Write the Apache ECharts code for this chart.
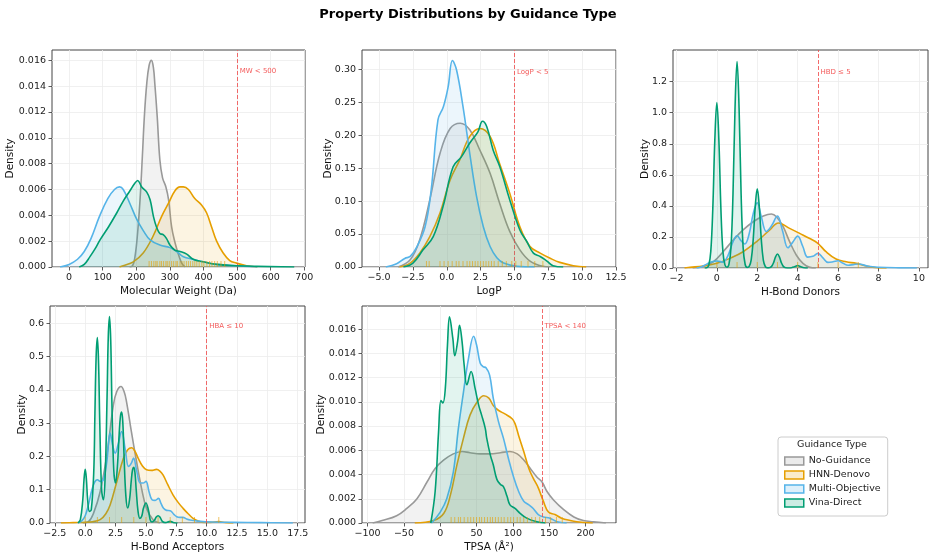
<!DOCTYPE html>
<html>
<head>
<meta charset="utf-8">
<script src="https://cdn.jsdelivr.net/npm/echarts@6/dist/echarts.min.js"></script>
<style>
  html, body { margin: 0; padding: 0; background: #fff; }
  #chart { width: 936px; height: 558px; }
</style>
</head>
<body>
<div id="chart"></div>
<script>
// guidance types and colours
const guidanceTypes = ['No-Guidance', 'HNN-Denovo', 'Multi-Objective', 'Vina-Direct'];
const lineColors = ['#999999', '#E69F00', '#56B4E9', '#009E73'];
const fillColors = ['rgba(153,153,153,0.18)', 'rgba(230,159,0,0.16)', 'rgba(86,180,233,0.16)', 'rgba(0,158,115,0.16)'];
const legendFills = ['rgba(153,153,153,0.2)', 'rgba(230,159,0,0.2)', 'rgba(86,180,233,0.2)', 'rgba(0,158,115,0.2)'];

// Molecular weight densities [x, density]
const mwNone = [[180,0],[189,0.0001],[196,0.0008],[203,0.0024],[211,0.0052],[218,0.0086],[224,0.0117],[231,0.0142],[238,0.0156],[245,0.0160],[251,0.0154],[255,0.0142],[262,0.0117],[270,0.0083],[278,0.0069],[288,0.0062],[296,0.0052],[305,0.0031],[315,0.0019],[325,0.0010],[335,0.0003],[345,0]];
const mwHnn = [[150,0],[161,0.0001],[191,0.0004],[221,0.0011],[250,0.0024],[275,0.0039],[295,0.0049],[315,0.0059],[330,0.0062],[340,0.0062],[355,0.0060],[374,0.0053],[394,0.0048],[409,0.0042],[424,0.0031],[439,0.0020],[458,0.0011],[478,0.0005],[498,0.0003],[528,0.0001],[560,0]];
const mwMulti = [[-27,0],[0,0.0002],[25,0.0006],[45,0.0012],[65,0.0022],[90,0.0039],[115,0.0053],[135,0.0060],[150,0.0062],[161,0.0060],[181,0.0049],[201,0.0037],[221,0.0028],[241,0.0021],[270,0.0017],[300,0.0015],[320,0.0012],[340,0.0008],[369,0.0006],[399,0.0004],[439,0.0002],[498,0.0001],[560,0]];
const mwVina = [[30,0],[45,0.0002],[62,0.0008],[77,0.0014],[92,0.0021],[117,0.0031],[142,0.0042],[161,0.0051],[181,0.0059],[196,0.0065],[204,0.0067],[216,0.0062],[231,0.0058],[241,0.0052],[251,0.0039],[260,0.0031],[270,0.0026],[280,0.0025],[290,0.0022],[300,0.0017],[315,0.0013],[330,0.0012],[350,0.0010],[369,0.0006],[399,0.0004],[439,0.0002],[498,0.0001],[560,0.00005],[670,0]];
const mwRug = [238,245,252,258,262,270,275,281,288,292,298,305,311,318,322,330,336,342,349,355,361,368,374,380,387,395,401,410,418,425,433,441,452,463];

// LogP densities
const lpNone = [[-3.6,0],[-2.7,0.011],[-2.0,0.041],[-1.25,0.102],[-0.5,0.172],[0.25,0.21],[1.0,0.218],[1.7,0.208],[2.45,0.177],[3.2,0.142],[3.9,0.097],[4.65,0.054],[5.4,0.026],[6.15,0.009],[7.1,0.001],[7.6,0]];
const lpHnn = [[-3.5,0],[-2.7,0.006],[-2.0,0.021],[-1.25,0.046],[-0.5,0.082],[0.25,0.132],[0.95,0.162],[1.7,0.198],[2.45,0.21],[3.2,0.198],[3.9,0.157],[4.65,0.112],[5.4,0.061],[6.15,0.031],[6.9,0.021],[7.6,0.0136],[8.35,0.007],[9.35,0.002],[10.3,0]];
const lpMulti = [[-4.5,0],[-3.7,0.005],[-3.1,0.013],[-2.7,0.016],[-2.25,0.029],[-1.6,0.061],[-1.15,0.117],[-0.65,0.223],[-0.25,0.243],[0.1,0.273],[0.42,0.313],[0.72,0.299],[1.2,0.243],[1.7,0.172],[2.2,0.107],[2.7,0.061],[3.2,0.031],[3.7,0.014],[4.2,0.006],[5.2,0.001],[6.5,0]];
const lpVina = [[-3.2,0],[-2.5,0.006],[-1.75,0.026],[-1.0,0.046],[-0.27,0.092],[0.47,0.152],[1.08,0.167],[1.7,0.188],[2.3,0.205],[2.64,0.221],[2.95,0.213],[3.43,0.177],[3.92,0.152],[4.65,0.102],[5.4,0.056],[5.9,0.039],[6.4,0.021],[6.9,0.016],[7.4,0.009],[7.85,0.002],[8.6,0]];
const lpRug = [-1.5,-1.3,-0.5,-0.2,0.1,0.4,0.7,0.9,1.2,1.5,1.7,1.9,2.1,2.3,2.5,2.7,2.9,3.1,3.3,3.5,3.8,4.1,4.4,4.8,5.1,5.5,6,6.5,7.1];

// H-bond donor densities
const hbdNone = [[-1.2,0],[-0.68,0.009],[-0.18,0.04],[0.31,0.105],[0.81,0.18],[1.3,0.245],[1.8,0.298],[2.3,0.335],[2.7,0.348],[2.95,0.33],[3.28,0.266],[3.6,0.17],[3.93,0.084],[4.26,0.03],[4.6,0.004],[4.9,0]];
const hbdHnn = [[-1.6,0],[-1.33,0.004],[-0.68,0.013],[0,0.03],[0.64,0.062],[1.3,0.105],[1.97,0.17],[2.62,0.245],[3.05,0.29],[3.6,0.255],[4.1,0.223],[4.6,0.19],[5.0,0.159],[5.4,0.105],[5.9,0.058],[6.4,0.04],[6.9,0.03],[7.4,0.013],[7.9,0.002],[8.4,0]];
const hbdMulti = [[-1.0,0],[-0.75,0.008],[-0.5,0.025],[-0.25,0.04],[0,0.045],[0.3,0.038],[0.55,0.08],[0.8,0.17],[1.0,0.208],[1.2,0.175],[1.38,0.155],[1.6,0.22],[1.8,0.35],[2.0,0.42],[2.2,0.33],[2.45,0.235],[2.7,0.27],[3.0,0.335],[3.25,0.24],[3.52,0.13],[3.75,0.165],[4.0,0.205],[4.25,0.14],[4.5,0.07],[4.75,0.075],[5.0,0.094],[5.25,0.065],[5.5,0.036],[5.75,0.04],[6.0,0.047],[6.25,0.03],[6.5,0.018],[6.75,0.022],[7.0,0.026],[7.5,0.011],[8.0,0.005],[9.0,0.001],[9.9,0]];
const hbdVina = [[-0.6,0],[-0.5,0.002],[-0.4,0.018],[-0.3,0.107],[-0.2,0.383],[-0.1,0.825],[0,1.065],[0.1,0.825],[0.2,0.383],[0.3,0.107],[0.4,0.02],[0.5,0.005],[0.6,0.025],[0.7,0.133],[0.8,0.48],[0.9,1.03],[1,1.33],[1.1,1.03],[1.2,0.48],[1.3,0.133],[1.4,0.024],[1.5,0.004],[1.6,0.01],[1.7,0.052],[1.8,0.184],[1.9,0.395],[2,0.51],[2.1,0.395],[2.2,0.184],[2.3,0.051],[2.4,0.009],[2.5,0.001],[2.6,0.002],[2.7,0.009],[2.8,0.032],[2.9,0.07],[3,0.09],[3.1,0.07],[3.2,0.032],[3.3,0.009],[3.4,0.002],[3.6,0],[3.7,0.002],[3.8,0.006],[3.9,0.012],[4,0.016],[4.1,0.012],[4.2,0.006],[4.3,0.002],[4.5,0]];
const hbdRug = [0,1,2,3,4,5,6,7];

// H-bond acceptor densities
const hbaNone = [[-0.2,0],[0.27,0.004],[0.68,0.029],[1.23,0.094],[1.78,0.204],[2.32,0.355],[2.6,0.395],[2.95,0.41],[3.2,0.395],[3.4,0.365],[3.8,0.275],[4.23,0.184],[4.64,0.104],[5.05,0.044],[5.6,0.009],[6.15,0]];
const hbaHnn = [[-2,0],[-1,0.001],[0,0.002],[0.6,0.004],[1.23,0.01],[1.7,0.028],[2.05,0.054],[2.6,0.124],[3.14,0.194],[3.5,0.22],[3.83,0.226],[4.1,0.215],[4.37,0.194],[4.7,0.172],[5.05,0.16],[5.45,0.158],[5.87,0.161],[6.15,0.156],[6.42,0.144],[6.8,0.115],[7.24,0.084],[7.65,0.062],[8.06,0.044],[8.5,0.027],[8.88,0.014],[9.3,0.006],[9.7,0.002],[10.3,0.002],[11,0.004],[11.6,0.001],[12.2,0]];
const hbaMulti = [[-0.6,0],[-0.3,0.006],[0,0.022],[0.3,0.06],[0.55,0.1],[0.8,0.124],[1.0,0.13],[1.25,0.125],[1.5,0.13],[1.78,0.185],[2.05,0.27],[2.25,0.235],[2.47,0.21],[2.7,0.235],[3.0,0.275],[3.3,0.22],[3.57,0.17],[3.8,0.18],[3.98,0.195],[4.25,0.155],[4.53,0.12],[4.77,0.12],[5.0,0.125],[5.25,0.095],[5.5,0.07],[5.75,0.068],[6.03,0.074],[6.25,0.058],[6.45,0.044],[6.7,0.038],[7.0,0.037],[7.3,0.026],[7.54,0.019],[7.8,0.017],[8.04,0.017],[8.35,0.012],[8.64,0.009],[9.46,0.005],[10.5,0.003],[12.2,0.002],[14.5,0.001],[17.1,0]];
const hbaVina = [[-0.6,0],[-0.4,0.01],[-0.2,0.07],[-0.1,0.13],[0,0.161],[0.1,0.13],[0.2,0.07],[0.35,0.035],[0.5,0.04],[0.7,0.15],[0.8,0.33],[0.9,0.5],[1,0.557],[1.1,0.48],[1.2,0.3],[1.35,0.1],[1.5,0.07],[1.65,0.15],[1.8,0.38],[1.9,0.56],[2,0.62],[2.1,0.55],[2.2,0.36],[2.35,0.16],[2.5,0.12],[2.65,0.17],[2.8,0.27],[2.9,0.32],[3,0.333],[3.1,0.3],[3.2,0.2],[3.35,0.08],[3.5,0.045],[3.65,0.07],[3.8,0.13],[3.9,0.16],[4,0.167],[4.1,0.15],[4.2,0.1],[4.35,0.035],[4.5,0.014],[4.65,0.02],[4.8,0.045],[5,0.06],[5.2,0.04],[5.35,0.01],[5.5,0.003],[5.7,0.008],[5.85,0.018],[6,0.022],[6.15,0.018],[6.35,0.005],[6.6,0.001],[7,0.005],[7.3,0.001],[7.6,0]];
const hbaRug = [0,1,2,3,4,5,6,7,8,9,11];

// TPSA densities
const tpNone = [[-93,0],[-80,0.0002],[-60,0.0006],[-46,0.0012],[-32,0.0020],[-18,0.0034],[-7,0.0045],[5,0.0052],[18,0.0057],[30,0.0059],[41,0.0058],[55,0.0057],[69,0.0057],[83,0.0058],[96,0.0059],[106,0.0057],[115,0.0052],[124,0.0045],[133,0.0038],[140,0.0034],[147,0.0026],[156,0.0019],[170,0.0011],[184,0.0005],[197,0.0002],[211,0.0001],[228,0]];
const tpHnn = [[-35,0],[-9,0.0002],[5,0.0008],[14,0.0023],[23,0.0048],[32,0.0070],[41,0.0089],[51,0.0100],[60,0.0105],[67,0.0103],[73,0.0097],[80,0.0093],[89,0.0090],[99,0.0086],[103,0.0082],[108,0.0072],[115,0.0059],[122,0.0045],[128,0.0037],[135,0.0029],[142,0.0018],[149,0.0009],[158,0.0007],[167,0.0004],[179,0.0002],[188,0.0001],[210,0]];
const tpMulti = [[-12,0],[0,0.0009],[9,0.002],[18,0.0042],[25,0.0078],[32,0.0108],[39,0.0136],[46,0.0154],[50,0.0147],[55,0.0132],[59,0.0129],[63,0.0128],[68,0.0122],[73,0.0103],[80,0.0084],[87,0.0070],[94,0.0053],[101,0.0038],[108,0.0026],[115,0.0018],[122,0.0015],[128,0.0012],[135,0.0007],[142,0.0005],[151,0.0004],[161,0.0001],[174,0]];
const tpVina = [[-13,0],[-7,0.0026],[-2.3,0.0075],[1,0.0101],[3.7,0.0099],[7,0.0111],[10,0.0147],[12.8,0.0170],[17.4,0.0152],[20,0.0138],[24,0.0150],[26.6,0.0163],[30,0.015],[33,0.013],[36.7,0.0114],[42.5,0.0125],[48,0.0111],[53,0.0097],[57,0.0089],[62,0.0078],[64,0.0070],[69,0.0056],[73,0.0048],[78,0.0036],[82.6,0.0032],[87,0.0030],[92,0.0022],[96,0.0015],[103,0.0012],[110,0.0008],[119,0.0004],[133,0.0001],[145,0]];
const tpRug = [15,20,25,28,33,38,42,46,50,54,57,61,65,69,72,76,80,84,88,93,97,101,106,110,115,120,126,131,137,145,152,160,168];

// tick labels
const mwXTicks = [0,100,200,300,400,500,600,700];
const mwYTicks = [0,0.002,0.004,0.006,0.008,0.010,0.012,0.014,0.016];
const lpXTicks = [-5,-2.5,0,2.5,5,7.5,10,12.5];
const lpYTicks = [0,0.05,0.10,0.15,0.20,0.25,0.30];
const hbdXTicks = [-2,0,2,4,6,8,10];
const hbdYTicks = [0,0.2,0.4,0.6,0.8,1.0,1.2];
const hbaXTicks = [-2.5,0,2.5,5,7.5,10,12.5,15,17.5];
const hbaYTicks = [0,0.1,0.2,0.3,0.4,0.5,0.6];
const tpXTicks = [-100,-50,0,50,100,150,200];
const tpYTicks = [0,0.002,0.004,0.006,0.008,0.010,0.012,0.014,0.016];

// drug-likeness limits
const limits = [500, 5, 5, 10, 140];
const limitLabels = ['MW < 500', 'LogP < 5', 'HBD \u2264 5', 'HBA \u2264 10', 'TPSA < 140'];
const limitLabelY = [0.01517, 0.296, 1.264, 0.592, 0.01621];

const FONT = 'DejaVu Sans';
const panels = [
  { title: 'Molecular Weight (Da)', grid: {left: 52, top: 50, width: 253, height: 217}, xMin: -51, xMax: 702, yMax: 0.0168,
    xTicks: mwXTicks, yTicks: mwYTicks, xDec: 0, yDec: 3, data: [mwNone, mwHnn, mwMulti, mwVina], rug: mwRug, yGap: 36 },
  { title: 'LogP', grid: {left: 362, top: 50, width: 254, height: 217}, xMin: -6.26, xMax: 12.5, yMax: 0.329,
    xTicks: lpXTicks, yTicks: lpYTicks, xDec: 1, yDec: 2, data: [lpNone, lpHnn, lpMulti, lpVina], rug: lpRug, yGap: 28 },
  { title: 'H-Bond Donors', grid: {left: 673, top: 50, width: 255, height: 218}, xMin: -2.17, xMax: 10.45, yMax: 1.404,
    xTicks: hbdXTicks, yTicks: hbdYTicks, xDec: 0, yDec: 1, data: [hbdNone, hbdHnn, hbdMulti, hbdVina], rug: hbdRug, yGap: 22 },
  { title: 'H-Bond Acceptors', grid: {left: 50, top: 306, width: 255, height: 217}, xMin: -2.9, xMax: 18.1, yMax: 0.652,
    xTicks: hbaXTicks, yTicks: hbaYTicks, xDec: 1, yDec: 1, data: [hbaNone, hbaHnn, hbaMulti, hbaVina], rug: hbaRug, yGap: 22 },
  { title: 'TPSA (\u00c5\u00b2)', grid: {left: 362, top: 306, width: 254, height: 217}, xMin: -107.7, xMax: 242, yMax: 0.0179,
    xTicks: tpXTicks, yTicks: tpYTicks, xDec: 0, yDec: 3, data: [tpNone, tpHnn, tpMulti, tpVina], rug: tpRug, yGap: 35 }
];

const fmt = (v, d) => v.toFixed(d).replace('-', '\u2212');
const tickStyle = { show: true, length: 3.5, lineStyle: { color: '#333', width: 0.8 } };
const splitStyle = { show: true, lineStyle: { color: '#ececec', width: 0.8 } };

const grids = [], xAxes = [], yAxes = [], series = [];
panels.forEach((p, i) => {
  grids.push(Object.assign({ show: true, borderColor: '#444', borderWidth: 1, backgroundColor: 'transparent' }, p.grid));
  xAxes.push({
    type: 'value', gridIndex: i, min: p.xMin, max: p.xMax, position: 'bottom',
    name: p.title, nameLocation: 'middle', nameGap: 19, nameMoveOverlap: false,
    nameTextStyle: { fontFamily: FONT, fontSize: 10.5, color: '#111' },
    axisLine: { show: false, onZero: false },
    axisTick: Object.assign({ customValues: p.xTicks }, tickStyle),
    axisLabel: { customValues: p.xTicks, formatter: v => fmt(v, p.xDec), fontFamily: FONT, fontSize: 9.5, color: '#222', margin: 6 },
    splitLine: splitStyle
  });
  yAxes.push({
    type: 'value', gridIndex: i, min: 0, max: p.yMax, position: 'left',
    name: 'Density', nameLocation: 'middle', nameGap: p.yGap, nameMoveOverlap: false,
    nameTextStyle: { fontFamily: FONT, fontSize: 10.5, color: '#111' },
    axisLine: { show: false, onZero: false },
    axisTick: Object.assign({ customValues: p.yTicks }, tickStyle),
    axisLabel: { customValues: p.yTicks, formatter: v => fmt(v, p.yDec), fontFamily: FONT, fontSize: 9.5, color: '#222', margin: 6 },
    splitLine: splitStyle
  });
  p.data.forEach((d, k) => {
    series.push({
      type: 'line', name: guidanceTypes[k], xAxisIndex: i, yAxisIndex: i, data: d,
      smooth: 0.4, symbol: 'none', silent: true, z: 2 + k,
      lineStyle: { color: lineColors[k], width: 1.6 },
      itemStyle: { color: lineColors[k] },
      areaStyle: { color: fillColors[k] }
    });
  });
  series.push({
    type: 'scatter', xAxisIndex: i, yAxisIndex: i, silent: true, z: 8,
    data: p.rug.map(v => [v, 0]), symbol: 'rect', symbolSize: [1, 6], symbolOffset: [0, -3],
    itemStyle: { color: 'rgba(230,159,0,0.75)' }
  });
  series.push({
    type: 'scatter', xAxisIndex: i, yAxisIndex: i, silent: true, z: 9,
    data: [[limits[i], limitLabelY[i]]], symbolSize: 1, itemStyle: { color: 'transparent' },
    label: { show: true, position: 'right', distance: 2, formatter: limitLabels[i], color: '#f03030', fontFamily: FONT, fontSize: 7 },
    markLine: { silent: true, symbol: 'none', label: { show: false },
      lineStyle: { color: 'rgba(240,70,70,0.8)', type: [4, 2], width: 1 },
      data: [{ xAxis: limits[i] }] }
  });
});

const chart = echarts.init(document.getElementById('chart'), null, { renderer: 'canvas' });
chart.setOption({
  animation: false,
  backgroundColor: '#fff',
  title: [
    { text: 'Property Distributions by Guidance Type', left: 'center', top: 3,
      textStyle: { fontFamily: FONT, fontSize: 13, fontWeight: 'bold', color: '#000' } },
    { text: 'Guidance Type', left: 832, top: 440, textAlign: 'center', padding: 0,
      textStyle: { fontFamily: FONT, fontSize: 9.5, fontWeight: 'normal', color: '#222' } }
  ],
  legend: {
    left: 778, top: 437, orient: 'vertical', selectedMode: false,
    itemWidth: 19, itemHeight: 8, itemGap: 2, itemTextGap: 7,
    padding: [18, 7, 7, 6], borderColor: '#ccc', borderWidth: 1, borderRadius: 3, backgroundColor: '#fff',
    textStyle: { fontFamily: FONT, fontSize: 9.5, color: '#222', lineHeight: 12 },
    data: guidanceTypes.map((n, k) => ({ name: n, icon: 'rect',
      itemStyle: { color: legendFills[k], borderColor: lineColors[k], borderWidth: 1.5 } }))
  },
  grid: grids, xAxis: xAxes, yAxis: yAxes, series: series
});
</script>
</body>
</html>
